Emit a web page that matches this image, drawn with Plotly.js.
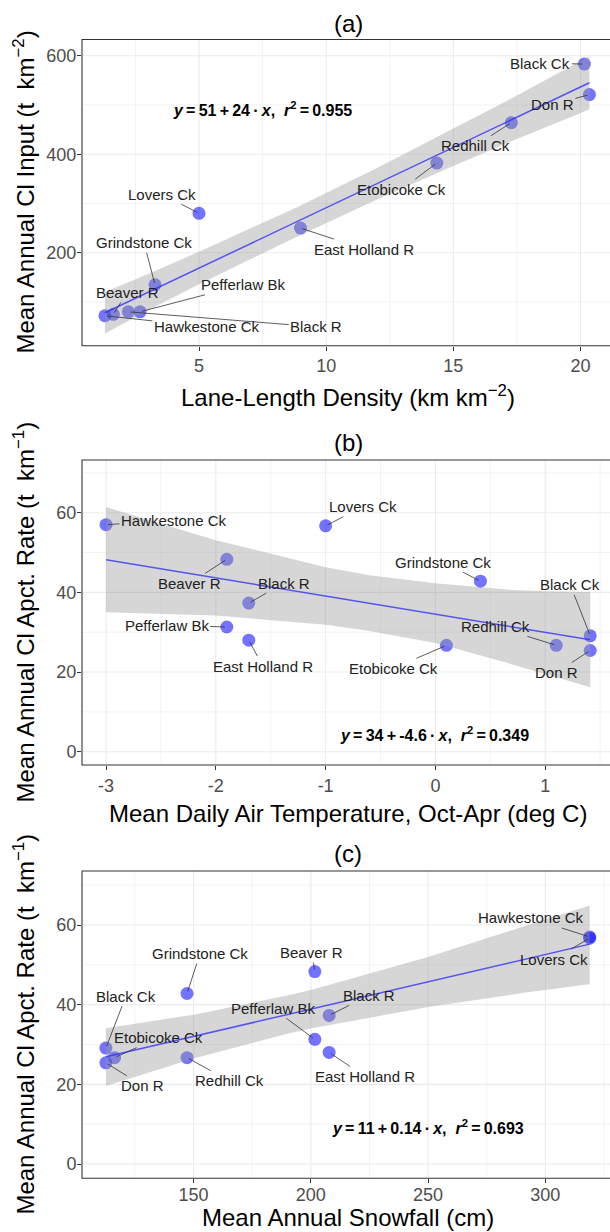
<!DOCTYPE html>
<html>
<head>
<meta charset="utf-8">
<script src="https://cdn.plot.ly/plotly-3.0.1.min.js"></script>
<style>
html,body{margin:0;padding:0;background:#fff;overflow:hidden;}
#chart{width:610px;height:1232px;}
</style>
</head>
<body>
<div id="chart"></div>
<script>
// ---------------- DATA ----------------
const sites = ["Beaver R","Black Ck","Black R","Don R","East Holland R","Etobicoke Ck","Grindstone Ck","Hawkestone Ck","Lovers Ck","Pefferlaw Bk","Redhill Ck"];
// (a) lane-length density (km km-2) vs mean annual Cl input (t km-2)
const laneDensity = [1.63, 20.15, 2.22, 20.35, 8.99, 14.35, 3.27, 1.30, 5.00, 2.68, 17.28];
const clInput     = [75, 583, 80, 521, 250, 382, 135, 72, 280, 80, 464];
// (b) mean daily air temperature Oct-Apr (deg C)
const airTemp     = [-1.90, 1.41, -1.70, 1.41, -1.70, 0.10, 0.41, -3.00, -1.00, -1.90, 1.10];
// (b),(c) mean annual Cl application rate (t km-1)
const apctRate    = [48.3, 29.1, 37.3, 25.4, 28.0, 26.7, 42.8, 57.0, 56.7, 31.3, 26.7];
// (c) mean annual snowfall (cm)
const snowfall    = [201.7, 112.6, 207.8, 112.6, 207.8, 116.3, 147.2, 318.9, 318.9, 201.7, 147.2];

// fitted lines
const fitA_x = [1.30, 20.35], fitA_y = [78, 545];
const fitB_x = [-3.00, 1.41], fitB_y = [48.2, 28.1];
const fitC_x = [112.6, 318.9], fitC_y = [26.9, 55.2];
// confidence ribbons
const ribA_x  = [1.30, 3, 5, 8.83, 12, 15, 17.5, 20.35];
const ribA_up = [120, 157, 202, 292, 372, 452, 519, 599];
const ribA_lo = [36, 83, 136, 232, 308, 376, 431, 491];
const ribB_x  = [-3, -2, -1, -0.6, 0, 0.65, 1, 1.41];
const ribB_up = [61.4, 53.1, 46.3, 44.3, 42.3, 40.7, 40.3, 40.1];
const ribB_lo = [35.0, 34.2, 31.9, 30.3, 27.3, 22.3, 19.5, 16.2];
const ribC_x  = [112.6, 150, 190, 200, 250, 290, 318.9];
const ribC_up = [34.1, 37.5, 42.3, 43.7, 52.0, 59.5, 64.9];
const ribC_lo = [19.6, 26.5, 32.7, 34.0, 39.4, 42.9, 45.1];

// tick values / labels and minor grid positions
const ticksA_x = [5, 10, 15, 20],         ticksA_y = [200, 400, 600];
const ticksB_x = [-3, -2, -1, 0, 1],      ticksB_xText = ['-3', '-2', '-1', '0', '1'];
const ticksB_y = [0, 20, 40, 60];
const ticksC_x = [150, 200, 250, 300],    ticksC_y = [0, 20, 40, 60];
const minorA_x = [2.5, 7.5, 12.5, 17.5],  minorA_y = [100, 300, 500];
const minorB_x = [-2.5, -1.5, -0.5, 0.5, 1.5], minorB_y = [10, 30, 50, 70];
const minorC_x = [125, 175, 225, 275, 325],    minorC_y = [10, 30, 50, 70];

const eqA = "<b><i>y</i>\u2009=\u200951\u2009+\u200924\u2009·\u2009<i>x</i>,  <i>r</i><sup>2</sup>\u2009=\u20090.955</b>";
const eqB = "<b><i>y</i>\u2009=\u200934\u2009+\u2009-4.6\u2009·\u2009<i>x</i>,  <i>r</i><sup>2</sup>\u2009=\u20090.349</b>";
const eqC = "<b><i>y</i>\u2009=\u200911\u2009+\u20090.14\u2009·\u2009<i>x</i>,  <i>r</i><sup>2</sup>\u2009=\u20090.693</b>";

// ---------------- LAYOUT HELPERS (pixel positions) ----------------
const W = 610, H = 1232;
const px = v => v / W;
const py = v => 1 - v / H;
const FONT = "'Liberation Sans', Arial, Helvetica, sans-serif";

// label offsets (pixels, text centre relative to point), in order of `sites`
const offA = [[14,-22],[-44,-1],[188,15],[-37,10],[64,21],[-35,26],[-11,-42],[102,11],[-37,-19],[103,-27],[-36,23]];
const offB = [[-37,24],[-20,-51],[35,-20],[-34,22],[14,26],[-53,23],[-37,-19],[68,-4],[37,-19],[-60,-2],[-61,-19]];
const offC = [[-3,-19],[20,-52],[40,-20],[37,23],[36,24],[44,-20],[13,-40],[-59,-19],[-36,21],[-42,-31],[42,23]];

const panels = [
  {x: laneDensity, y: clInput, fx: fitA_x, fy: fitA_y, rx: ribA_x, ru: ribA_up, rl: ribA_lo, off: offA, k: '',
   tx: ticksA_x, ty: ticksA_y, mx: minorA_x, my: minorA_y},
  {x: airTemp, y: apctRate, fx: fitB_x, fy: fitB_y, rx: ribB_x, ru: ribB_up, rl: ribB_lo, off: offB, k: '2',
   tx: ticksB_x, ty: ticksB_y, mx: minorB_x, my: minorB_y},
  {x: snowfall, y: apctRate, fx: fitC_x, fy: fitC_y, rx: ribC_x, ru: ribC_up, rl: ribC_lo, off: offC, k: '3',
   tx: ticksC_x, ty: ticksC_y, mx: minorC_x, my: minorC_y}
];

const GRID = '#ebebeb';
const traces = [];
const annotations = [];
const shapes = [];
panels.forEach(p => {
  const xa = 'x' + p.k, ya = 'y' + p.k;
  // grid lines (drawn as shapes below the data)
  const vline = (v, w) => shapes.push({type: 'line', layer: 'below', xref: xa, yref: ya + ' domain',
    x0: v, x1: v, y0: 0, y1: 1, line: {color: GRID, width: w}});
  const hline = (v, w) => shapes.push({type: 'line', layer: 'below', xref: xa + ' domain', yref: ya,
    x0: 0, x1: 1, y0: v, y1: v, line: {color: GRID, width: w}});
  p.mx.forEach(v => vline(v, 0.6));
  p.my.forEach(v => hline(v, 0.6));
  p.tx.forEach(v => vline(v, 1.1));
  p.ty.forEach(v => hline(v, 1.1));
  // panel border
  shapes.push({type: 'rect', xref: xa + ' domain', yref: ya + ' domain',
    x0: 0, x1: 1.02, y0: 0, y1: 1, layer: 'above',
    line: {color: '#333', width: 1.1}, fillcolor: 'rgba(0,0,0,0)'});

  traces.push({
    type: 'scatter', mode: 'markers', x: p.x, y: p.y, xaxis: xa, yaxis: ya,
    marker: {size: 13, color: 'rgba(0,0,255,0.55)', line: {width: 0}},
    hoverinfo: 'skip', showlegend: false
  });
  traces.push({
    type: 'scatter', mode: 'none',
    x: p.rx.concat(p.rx.slice().reverse()),
    y: p.ru.concat(p.rl.slice().reverse()),
    xaxis: xa, yaxis: ya, fill: 'toself',
    fillcolor: 'rgba(153,153,153,0.4)',
    hoverinfo: 'skip', showlegend: false
  });
  traces.push({
    type: 'scatter', mode: 'lines', x: p.fx, y: p.fy, xaxis: xa, yaxis: ya,
    line: {color: 'rgba(40,40,255,0.75)', width: 1.5},
    hoverinfo: 'skip', showlegend: false
  });
  sites.forEach((s, i) => {
    annotations.push({
      x: p.x[i], y: p.y[i], xref: xa, yref: ya, text: s,
      showarrow: true, arrowhead: 0, arrowwidth: 0.8, arrowcolor: '#333',
      ax: p.off[i][0], ay: p.off[i][1], standoff: 2,
      font: {family: FONT, size: 15, color: '#222'}
    });
  });
});

// titles & equations
const plotCx = px(348);
const addText = (text, x, y, size, opts) => annotations.push(Object.assign({
  text: text, x: x, y: y, xref: 'paper', yref: 'paper', showarrow: false,
  xanchor: 'center', yanchor: 'middle', font: {family: FONT, size: size, color: '#000'}
}, opts || {}));

addText('(a)', plotCx, py(23), 24);
addText('(b)', plotCx, py(442), 24);
addText('(c)', plotCx, py(853), 24);
addText('Lane-Length Density (km km<sup>−2</sup>)', plotCx, py(396), 24);
addText('Mean Daily Air Temperature, Oct-Apr (deg C)', plotCx, py(813), 24);
addText('Mean Annual Snowfall (cm)', plotCx, py(1217.5), 24);
addText('Mean Annual Cl Input (t\u00a0 km<sup>−2</sup>)', px(24), py(192.6), 24, {textangle: -90});
addText('Mean Annual Cl Apct. Rate (t\u00a0 km<sup>−1</sup>)', px(24), py(612.5), 24, {textangle: -90});
addText('Mean Annual Cl Apct. Rate (t\u00a0 km<sup>−1</sup>)', px(24), py(1024.6), 24, {textangle: -90});
addText(eqA, px(262.5), py(109), 16);
addText(eqB, px(434.7), py(734), 16);
addText(eqC, px(428), py(1127), 16);

const mk = extra => Object.assign({
  showgrid: false, zeroline: false, showline: false,
  ticks: 'outside', ticklen: 4, tickcolor: '#333', tickwidth: 1,
  tickfont: {family: FONT, size: 18, color: '#4d4d4d'},
  tickmode: 'array', fixedrange: true
}, extra);

const xDom = [px(82), 1];
const layout = {
  width: W, height: H,
  margin: {l: 0, r: 0, t: 0, b: 0},
  paper_bgcolor: '#fff', plot_bgcolor: '#fff',
  font: {family: FONT},
  showlegend: false,
  xaxis:  mk({domain: xDom, anchor: 'y',  range: [0.399, 21.16], tickvals: ticksA_x}),
  yaxis:  mk({domain: [py(345.7), py(39.5)], anchor: 'x', range: [11.2, 632.9], tickvals: ticksA_y, ticklabelstandoff: -3}),
  xaxis2: mk({domain: xDom, anchor: 'y2', range: [-3.219, 1.590], tickvals: ticksB_x, ticktext: ticksB_xText}),
  yaxis2: mk({domain: [py(765), py(460)], anchor: 'x2', range: [-3.34, 73.23], tickvals: ticksB_y, ticklabelstandoff: -3}),
  xaxis3: mk({domain: xDom, anchor: 'y3', range: [102.41, 327.57], tickvals: ticksC_x, ticklabelstandoff: -4}),
  yaxis3: mk({domain: [py(1178.3), py(871)], anchor: 'x3', range: [-3.59, 73.56], tickvals: ticksC_y, ticklabelstandoff: -3}),
  shapes: shapes,
  annotations: annotations
};

Plotly.newPlot('chart', traces, layout, {displayModeBar: false, staticPlot: true});
</script>
</body>
</html>
